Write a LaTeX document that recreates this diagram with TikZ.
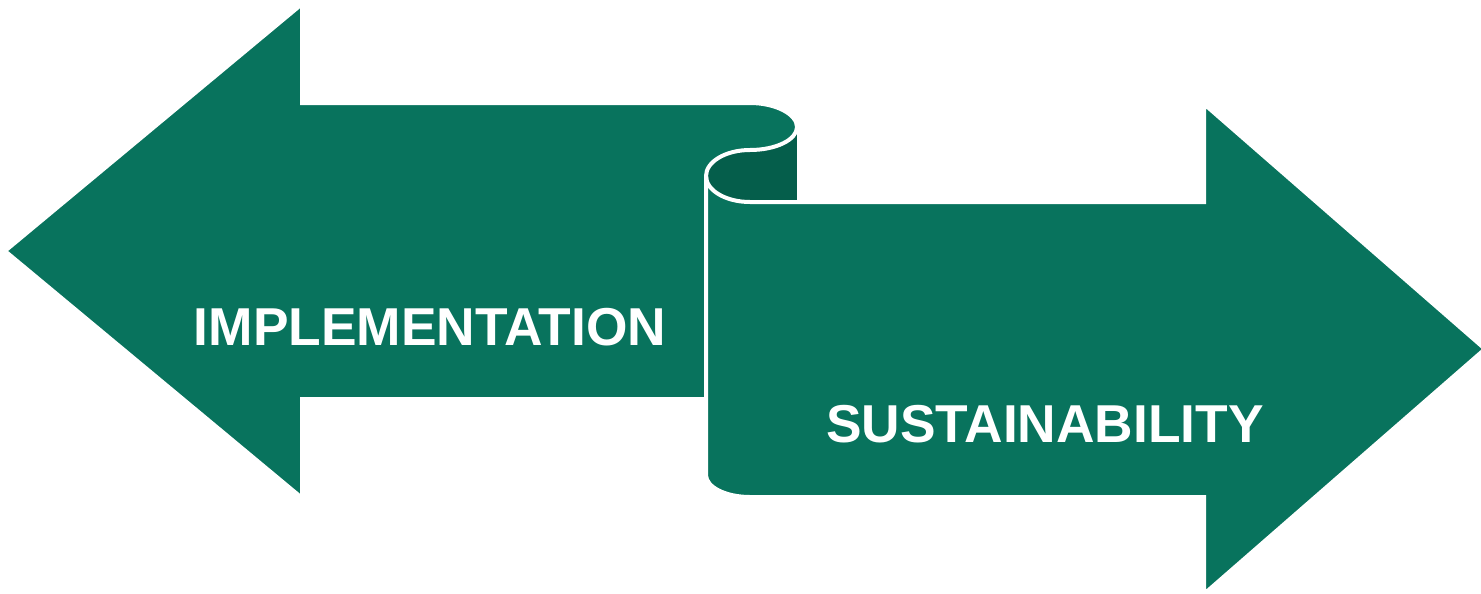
\documentclass[tikz,border=0pt]{standalone}
\usepackage{fontspec}
\setmainfont{Liberation Sans}
\definecolor{scrollgreen}{RGB}{8,115,93}
\definecolor{scrolldark}{RGB}{5,94,75}

\begin{document}
\begin{tikzpicture}[x=0.75pt,y=0.75pt,yscale=-1,xscale=1,
  scrollshape/.style={fill=scrollgreen, draw=white, line width=3pt, line join=miter},
  bannertext/.style={text=white, font=\fontsize{40}{48}\selectfont\bfseries, inner sep=0pt, anchor=base}]
\useasboundingbox (0,0) rectangle (1481,593);

%Shape: Back of the roll [id:dark]
\fill[scrolldark] (750,127) rectangle (797,202);
\fill[scrolldark] (750,176) ellipse [x radius=44, y radius=26];

%Shape: Left arrow with curl [id:left]
\draw[scrollshape] (5,251) -- (302,4) -- (302,103) -- (750,103) .. controls (775.96,103) and (797,114.3) .. (797,127) .. controls (797,139.7) and (775.96,150) .. (750,150) .. controls (725.7,150) and (706,161.64) .. (706,176) -- (706,399) -- (302,399) -- (302,498) -- cycle ;

%Shape: Right arrow from the roll [id:right]
\draw[scrollshape] (706,176) .. controls (706,190.36) and (725.7,202) .. (750,202) -- (1204,202) -- (1204,104) -- (1485,349) -- (1204,594) -- (1204,497) -- (750,497) .. controls (725.7,497) and (706,487.15) .. (706,475) -- cycle ;

% Text Node
\node[bannertext] (impl) at (430,345) {IMPLEMENTATION};
% Text Node
\node[bannertext] (sust) at (1045,442) {SUSTAINABILITY};

\end{tikzpicture}
\end{document}
